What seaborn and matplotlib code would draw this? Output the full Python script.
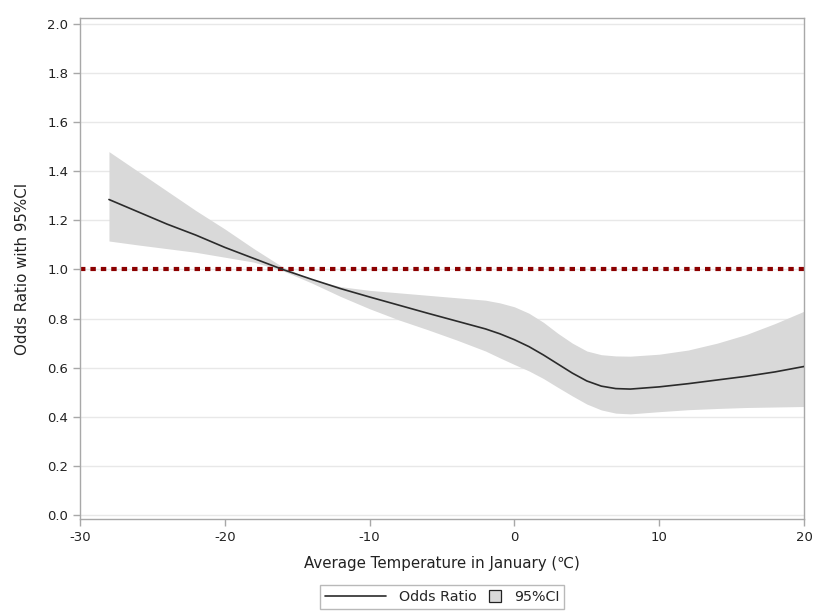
import matplotlib
matplotlib.use("Agg")
import matplotlib.pyplot as plt
from matplotlib.lines import Line2D
from matplotlib.patches import Patch, Rectangle
from matplotlib.legend_handler import HandlerPatch
import seaborn as sns
import pandas as pd

# 數據
temp = [-28, -26, -24, -22, -20, -18, -16, -14, -12, -10, -8, -6, -4, -2, -1,
        0, 1, 2, 3, 4, 5, 6, 7, 8, 10, 12, 14, 16, 18, 20]
odds_ratio = [1.285, 1.235, 1.185, 1.14, 1.09, 1.045, 1.0, 0.96, 0.922, 0.888,
              0.855, 0.822, 0.79, 0.758, 0.738, 0.714, 0.686, 0.652, 0.615, 0.578,
              0.546, 0.525, 0.515, 0.513, 0.522, 0.535, 0.55, 0.565, 0.583, 0.605]
ci_upper = [1.48, 1.40, 1.32, 1.24, 1.165, 1.085, 1.01, 0.96, 0.93, 0.915,
            0.905, 0.895, 0.885, 0.875, 0.864, 0.848, 0.822, 0.785, 0.74, 0.70,
            0.668, 0.653, 0.648, 0.647, 0.655, 0.672, 0.70, 0.735, 0.78, 0.83]
ci_lower = [1.116, 1.10, 1.085, 1.07, 1.05, 1.03, 0.995, 0.945, 0.89, 0.84,
            0.795, 0.755, 0.713, 0.668, 0.64, 0.613, 0.587, 0.556, 0.52, 0.485,
            0.452, 0.428, 0.415, 0.412, 0.421, 0.429, 0.434, 0.438, 0.44, 0.442]
x_ticks = [-30, -20, -10, 0, 10, 20]
y_ticks = [0.0, 0.2, 0.4, 0.6, 0.8, 1.0, 1.2, 1.4, 1.6, 1.8, 2.0]
reference_or = 1.0

df = pd.DataFrame({'temp': temp, 'or': odds_ratio, 'lo': ci_lower, 'hi': ci_upper})

sns.set_style("white")
plt.rcParams['font.family'] = ['DejaVu Sans']

fig = plt.figure(figsize=(8.13, 6.11), dpi=100)
ax = fig.add_axes([0.0984, 0.1506, 0.8906, 0.8199])

# 網格線
for yv in y_ticks:
    ax.axhline(yv, color='#e8e8e8', lw=1.0, zorder=0)

# 95%CI 區間
ax.fill_between(df['temp'], df['lo'], df['hi'], color='#d9d9d9', lw=0, zorder=1)
# 參考線
ax.axhline(reference_or, color='#8b0000', lw=3, linestyle=(0, (1.3, 1.2)), zorder=2)
# 勝算比曲線
sns.lineplot(data=df, x='temp', y='or', ax=ax, color='#2b2b2b', lw=1.2, zorder=3)

ax.set_xlim(-30, 20)
ax.set_ylim(-0.016, 2.024)
ax.set_xticks(x_ticks)
ax.set_xticklabels([str(v) for v in x_ticks])
ax.set_yticks(y_ticks)
ax.set_yticklabels([f'{v:.1f}' for v in y_ticks])
ax.tick_params(axis='both', direction='out', length=5, width=1, color='#a8a8a8',
               labelsize=9.5, labelcolor='#222222', bottom=True, left=True)
for s in ax.spines.values():
    s.set_color('#a8a8a8')
    s.set_linewidth(1)

ax.set_xlabel('Average Temperature in January (℃)', fontsize=10.8, color='#222222', labelpad=9)
ax.set_ylabel('Odds Ratio with 95%CI', fontsize=10.8, color='#222222', labelpad=12)


# 圖例中小方塊放在圖例區右側
def small_square(legend, orig_handle, xdescent, ydescent, width, height, fontsize):
    s = 9
    return Rectangle((width - s - xdescent, (height - s) / 2 - ydescent), s, s)


handles = [Line2D([0], [0], color='#2b2b2b', lw=1.2),
           Patch(facecolor='#d9d9d9', edgecolor='#222222', lw=0.9)]
leg = ax.legend(handles, ['Odds Ratio', '95%CI'], loc='upper center',
                bbox_to_anchor=(0.5, -0.1317), borderaxespad=0, ncol=2,
                frameon=True, fancybox=False, fontsize=10.3,
                handlelength=4.3, handletextpad=0.9, columnspacing=-2.6,
                borderpad=0.35,
                handler_map={Patch: HandlerPatch(patch_func=small_square)})
leg.get_frame().set_edgecolor('#a8a8a8')
leg.get_frame().set_linewidth(1)

fig.savefig('out.png', dpi=100)
